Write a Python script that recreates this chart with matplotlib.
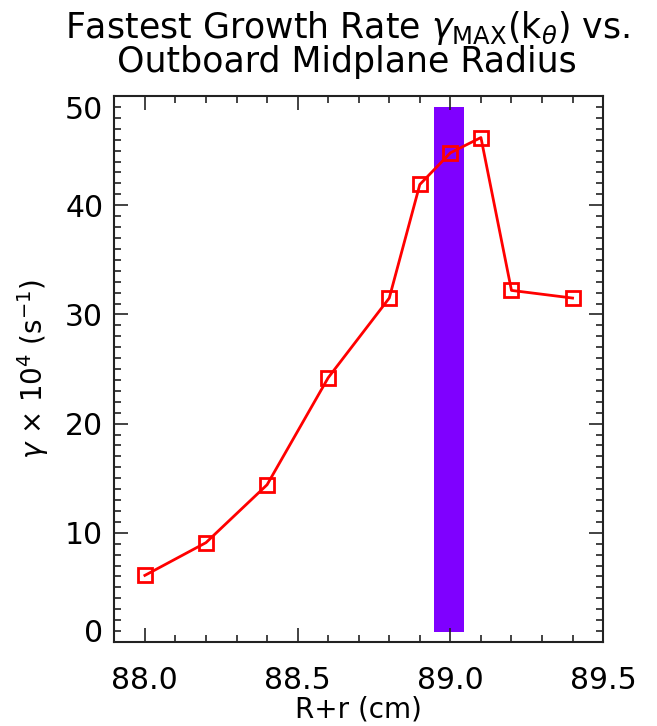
import numpy as np
import matplotlib.pyplot as plt
from matplotlib.ticker import MultipleLocator

# data
radius = [88.0, 88.2, 88.4, 88.6, 88.8, 88.9, 89.0, 89.1, 89.2, 89.4]
gamma = [6.1, 9.1, 14.4, 24.2, 31.5, 41.9, 44.8, 46.2, 32.2, 31.5]

band_x = [88.945, 89.045]
band_y = [0.9, 49.0]

x_ticks = [88.0, 88.5, 89.0, 89.5]
y_ticks = [0, 10, 20, 30, 40, 50]

plt.rcParams['mathtext.fontset'] = 'dejavusans'
plt.rcParams['font.family'] = 'DejaVu Sans'

fig = plt.figure(figsize=(6.57, 7.26), dpi=100)
ax = fig.add_axes([0.174, 0.1157, 0.744, 0.752])

# 紫色竖条
ax.fill_between(band_x, band_y[0], band_y[1], color='#7f00ff', lw=0, zorder=1)

ax.plot(radius, gamma, '-', color='#ff0000', lw=2, zorder=2)
ax.plot(radius, gamma, 's', ms=10.5, mfc='none', mec='#ff0000', mew=2, zorder=3)

ax.set_xlim(87.9, 89.5)
ax.set_ylim(0, 50)
ax.set_xticks(x_ticks)
ax.set_xticklabels([f'{v:.1f}' for v in x_ticks])
ax.set_yticks(y_ticks)
ax.set_yticklabels([str(v) for v in y_ticks])
ax.xaxis.set_minor_locator(MultipleLocator(0.1))
ax.yaxis.set_minor_locator(MultipleLocator(1))

ax.tick_params(which='both', direction='in', top=True, right=True,
               color='#222222', width=1.2, labelsize=21.5)
ax.tick_params(which='major', length=10)
ax.tick_params(which='minor', length=5)
ax.tick_params(axis='x', pad=17)
ax.tick_params(axis='y', pad=8)
for s in ax.spines.values():
    s.set_color('#222222')
    s.set_linewidth(1.5)

# IDL pushes the end labels inside the axis
ylabels = ax.get_yticklabels()
ylabels[0].set_va('baseline')
ylabels[-1].set_va('top')

ax.set_ylabel(r'$\gamma$ $\times$ 10$^4$ (s$^{-1}$)', fontsize=20, labelpad=10)
# x label placed by hand so it stays inside the canvas
fig.text(0.545, 0.003, 'R+r (cm)', ha='center', va='bottom', fontsize=20)

fig.text(0.528, 0.962, r'Fastest Growth Rate $\gamma_{\rm MAX}$(k$_\theta$) vs.',
         ha='center', va='center', fontsize=25)
fig.text(0.528, 0.914, 'Outboard Midplane Radius',
         ha='center', va='center', fontsize=25)

fig.savefig('out.png', dpi=100)
